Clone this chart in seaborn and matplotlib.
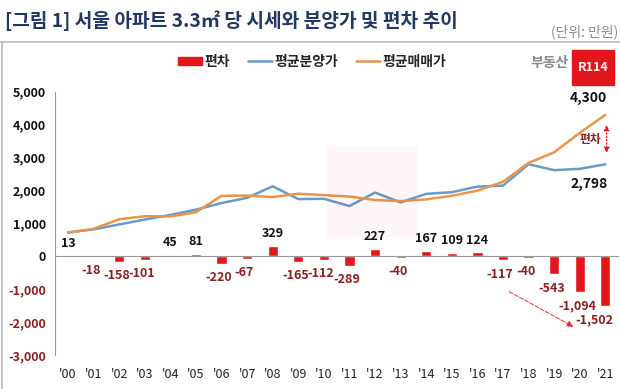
import numpy as np
import pandas as pd
import matplotlib.pyplot as plt
from matplotlib.lines import Line2D
from matplotlib.patches import Patch, Rectangle
import seaborn as sns

# values (만원 per 3.3㎡)
years = ["'00", "'01", "'02", "'03", "'04", "'05", "'06", "'07", "'08", "'09", "'10",
         "'11", "'12", "'13", "'14", "'15", "'16", "'17", "'18", "'19", "'20", "'21"]
sale_price = [730, 820, 970, 1120, 1260, 1420, 1620, 1780, 2130, 1740, 1750,
              1530, 1940, 1640, 1900, 1950, 2120, 2150, 2800, 2620, 2660, 2798]
market_price = [717, 838, 1128, 1221, 1215, 1339, 1840, 1847, 1801, 1905, 1862,
                1819, 1713, 1680, 1733, 1841, 1996, 2267, 2840, 3163, 3754, 4300]
deviation = [13, -18, -158, -101, 45, 81, -220, -67, 329, -165, -112,
             -289, 227, -40, 167, 109, 124, -117, -40, -543, -1094, -1502]

df = pd.DataFrame({'year': years, 'idx': np.arange(len(years)),
                   'sale': sale_price, 'market': market_price, 'dev': deviation})

sns.set_style('white')
plt.rcParams['font.family'] = ['Noto Sans CJK KR', 'DejaVu Sans']

RED = '#E3161B'
BLUE = '#6A9BC8'
ORANGE = '#E8964C'
DARKRED = '#8E1E20'

fig = plt.figure(figsize=(6.2, 3.89), dpi=100)
ax = fig.add_axes([0.089, 0.087, 0.908, 0.677])

sns.barplot(data=df, x='year', y='dev', color=RED, width=0.4, saturation=1, ax=ax)
sns.lineplot(data=df, x='idx', y='sale', color=BLUE, lw=1.8, ax=ax)
sns.lineplot(data=df, x='idx', y='market', color=ORANGE, lw=1.8, ax=ax)

ax.set_xlim(-0.5, len(years) - 0.5)
ax.set_ylim(-3000, 5000)
ax.set_xlabel('')
ax.set_ylabel('')

# bar value labels
n = len(deviation)
for i, v in enumerate(deviation):
    if v >= 0:
        ax.annotate(f'{v:,}', (i, v), xytext=(0, 4), textcoords='offset points',
                    ha='center', va='bottom', fontsize=9, fontweight='bold', color='#111111')
    else:
        dx = -8 if i == n - 1 else -2
        ax.annotate(f'{v:,}', (i, v), xytext=(dx, -10), textcoords='offset points',
                    ha='center', va='center', fontsize=9, fontweight='bold', color=DARKRED)

# end labels
ax.annotate(f'{market_price[-1]:,}', (n - 1, market_price[-1]), xytext=(-12, 12),
            textcoords='offset points', ha='center', va='center',
            fontsize=10, fontweight='bold', color='#111111')
ax.annotate(f'{sale_price[-1]:,}', (n - 1, sale_price[-1]), xytext=(-12, -14),
            textcoords='offset points', ha='center', va='center',
            fontsize=10, fontweight='bold', color='#111111')

# gap arrow
ax.annotate('', xy=(21.05, 3050), xytext=(21.05, 4080),
            arrowprops=dict(arrowstyle='<|-|>', color=RED, lw=0.9, ls=':',
                            mutation_scale=8))
ax.text(20.4, 3550, '편차', ha='center', va='center', fontsize=8.5,
        fontweight='bold', color=DARKRED)

# trend arrow
ax.annotate('', xy=(19.85, -2180), xytext=(17.15, -1030),
            arrowprops=dict(arrowstyle='-|>', color=RED, lw=0.8, ls='--',
                            mutation_scale=9, alpha=0.8))

# axes styling
for s in ['top', 'right']:
    ax.spines[s].set_visible(False)
ax.spines['left'].set_color('#999999')
ax.spines['bottom'].set_position(('data', 0))
ax.spines['bottom'].set_color('#999999')
ax.set_xticks(np.arange(n))
ax.set_xticks(np.arange(n + 1) - 0.5, minor=True)
ax.tick_params(axis='x', which='major', length=0, pad=80, labelsize=9, labelcolor='#222222')
ax.tick_params(axis='x', which='minor', length=3, color='#999999', direction='out')
ax.set_yticks(np.arange(-3000, 5001, 1000))
ax.set_yticklabels([f'{t:,}' for t in range(-3000, 5001, 1000)])
ax.tick_params(axis='y', length=3, color='#999999', labelsize=9)
for lab, t in zip(ax.get_yticklabels(), range(-3000, 5001, 1000)):
    lab.set_fontweight('bold')
    lab.set_color(DARKRED if t < 0 else '#111111')

# legend
handles = [Patch(color=RED), Line2D([], [], color=BLUE, lw=1.8),
           Line2D([], [], color=ORANGE, lw=1.8)]
fig.legend(handles, ['편차', '평균분양가', '평균매매가'], ncol=3, frameon=False,
           loc='center', bbox_to_anchor=(0.504, 0.841),
           handlelength=1.7, handleheight=0.5, columnspacing=1.3, handletextpad=0.2,
           prop={'weight': 'bold', 'size': 10})

# title, unit, frame lines
fig.text(0.008, 0.946, '[그림 1] 서울 아파트 3.3㎡ 당 시세와 분양가 및 편차 추이',
         fontsize=13.8, fontweight='bold', color='#233766', va='center')
fig.text(0.997, 0.918, '(단위: 만원)', fontsize=10, color='#8A8A8A', ha='right', va='center')
fig.add_artist(Line2D([0, 1], [0.892, 0.892], color='#BBBBBB', lw=1.2))
fig.add_artist(Line2D([0.003, 0.003], [0, 0.892], color='#BBBBBB', lw=1.2))

# logo
fig.text(0.917, 0.838, '부동산', fontsize=10, fontweight='bold', color='#8A8A8A',
         ha='right', va='center')
fig.add_artist(Rectangle((0.9226, 0.7815), 0.0677, 0.09, color=RED,
                         transform=fig.transFigure))
fig.text(0.9565, 0.8265, 'R114', fontsize=9, fontweight='bold', color='white',
         ha='center', va='center')

# faint watermark
fig.add_artist(Rectangle((0.527, 0.39), 0.145, 0.232, color=RED, alpha=0.04,
                         transform=fig.transFigure, lw=0))

fig.savefig('out.png', dpi=100)
